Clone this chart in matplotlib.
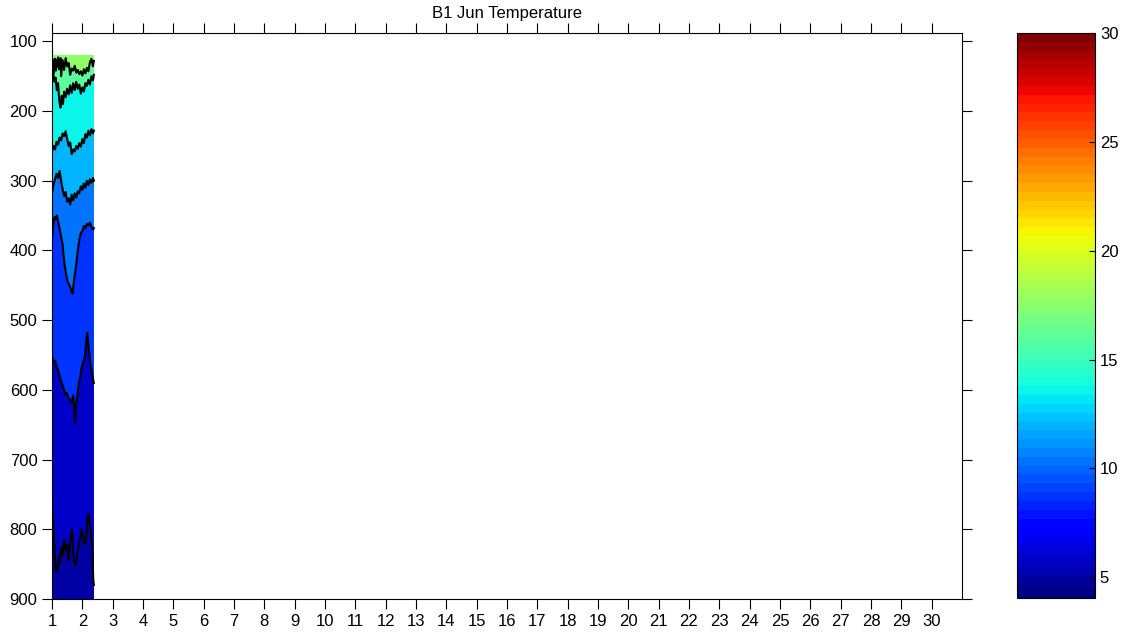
import matplotlib
matplotlib.use("Agg")
import matplotlib.pyplot as plt
import matplotlib as mpl
import numpy as np

plt.rcParams['font.family'] = ['Liberation Sans', 'DejaVu Sans']

# time axis (day of month) and depth range of the cast
days = list(range(1, 31))
depth_ticks = [100, 200, 300, 400, 500, 600, 700, 800, 900]
cbar_ticks = [5, 10, 15, 20, 25, 30]
t_min, t_max = 4.05, 30.0
x_start, x_end = 1.0, 2.38
depth_top, depth_bottom = 120, 900

# temperature of each band, from the surface down
band_temps = [17.7, 16.0, 13.6, 12.0, 10.3, 8.9, 6.0, 5.0]

# isotherm depths (boundaries between bands)
iso1_x = [1.00, 1.03, 1.05, 1.08, 1.10, 1.13, 1.15, 1.18, 1.20, 1.23, 1.25, 1.28, 1.30, 1.35, 1.40, 1.45,
          1.50, 1.55, 1.60, 1.65, 1.70, 1.75, 1.80, 1.85, 1.90, 1.95, 2.00, 2.05, 2.10, 2.15, 2.20,
          2.25, 2.30, 2.35, 2.38]
iso1_d = [140, 126, 146, 131, 125, 142, 127, 136, 123, 140, 132, 124, 150, 127, 141, 124,
          136, 131, 148, 139, 142, 135, 145, 141, 147, 143, 149, 140, 146, 138, 143,
          130, 125, 136, 128]

iso2_x = [1.00, 1.04, 1.08, 1.12, 1.16, 1.20, 1.24, 1.28, 1.32, 1.36, 1.40, 1.45, 1.50, 1.55, 1.60, 1.65,
          1.70, 1.75, 1.80, 1.85, 1.90, 1.95, 2.00, 2.05, 2.10, 2.15, 2.20, 2.25, 2.30, 2.35, 2.38]
iso2_d = [150, 146, 158, 152, 170, 160, 185, 195, 178, 190, 172, 180, 168, 176, 163, 174,
          160, 170, 158, 168, 162, 175, 166, 172, 160, 164, 155, 162, 150, 156, 148]

iso3_x = [1.00, 1.05, 1.10, 1.15, 1.20, 1.25, 1.30, 1.35, 1.40, 1.45, 1.50, 1.55, 1.60, 1.65, 1.70,
          1.75, 1.80, 1.85, 1.90, 1.95, 2.00, 2.05, 2.10, 2.15, 2.20, 2.25, 2.30, 2.35, 2.38]
iso3_d = [258, 250, 255, 244, 248, 238, 242, 232, 236, 229, 240, 250, 245, 262, 255,
          258, 250, 254, 246, 251, 240, 246, 233, 238, 228, 235, 226, 232, 228]

iso4_x = [1.00, 1.05, 1.10, 1.15, 1.20, 1.25, 1.30, 1.35, 1.40, 1.45, 1.50, 1.55, 1.60, 1.65, 1.70,
          1.75, 1.80, 1.85, 1.90, 1.95, 2.00, 2.05, 2.10, 2.15, 2.20, 2.25, 2.30, 2.35, 2.38]
iso4_d = [318, 305, 298, 290, 296, 286, 300, 312, 322, 316, 330, 325, 334, 320, 328,
          318, 324, 315, 318, 308, 313, 304, 310, 300, 306, 298, 303, 296, 300]

iso5_x = [1.00, 1.03, 1.06, 1.09, 1.12, 1.16, 1.20, 1.25, 1.30, 1.35, 1.40, 1.45, 1.50, 1.55, 1.60, 1.64,
          1.68, 1.72, 1.76, 1.80, 1.85, 1.90, 1.95, 2.00, 2.05, 2.10, 2.15, 2.20, 2.25, 2.30, 2.35, 2.38]
iso5_d = [385, 368, 356, 352, 355, 350, 358, 368, 380, 392, 415, 430, 442, 448, 452, 458,
          462, 445, 432, 420, 400, 385, 375, 372, 365, 368, 362, 364, 360, 366, 370, 368]

iso6_x = [1.00, 1.05, 1.10, 1.15, 1.20, 1.26, 1.32, 1.38, 1.43, 1.48, 1.54, 1.59, 1.64, 1.70, 1.74,
          1.76, 1.79, 1.83, 1.87, 1.92, 1.98, 2.03, 2.09, 2.13, 2.16, 2.20, 2.25, 2.30, 2.36, 2.38]
iso6_d = [552, 560, 558, 566, 572, 582, 590, 598, 606, 604, 612, 614, 618, 608, 630,
          648, 622, 610, 596, 584, 568, 560, 552, 530, 518, 535, 557, 572, 586, 590]

iso7_x = [1.00, 1.02, 1.04, 1.07, 1.10, 1.14, 1.18, 1.22, 1.26, 1.30, 1.35, 1.40, 1.45, 1.50, 1.54, 1.58,
          1.62, 1.66, 1.70, 1.74, 1.78, 1.82, 1.87, 1.92, 1.98, 2.03, 2.09, 2.14, 2.18, 2.21, 2.25,
          2.29, 2.33, 2.36, 2.38]
iso7_d = [752, 770, 795, 818, 845, 862, 858, 840, 848, 826, 838, 815, 830, 822, 845, 828,
          810, 800, 835, 848, 852, 838, 826, 815, 800, 812, 822, 805, 780, 778, 795,
          810, 830, 872, 880]

isotherms = [(iso1_x, iso1_d), (iso2_x, iso2_d), (iso3_x, iso3_d), (iso4_x, iso4_d),
             (iso5_x, iso5_d), (iso6_x, iso6_d), (iso7_x, iso7_d)]

cmap = mpl.colormaps['jet'].resampled(64)
norm = mpl.colors.Normalize(vmin=t_min, vmax=t_max)

fig = plt.figure(figsize=(11.27, 6.38), dpi=100)
ax = fig.add_axes([52 / 1127, 1 - 599 / 638, 910 / 1127, 566 / 638])
cax = fig.add_axes([1017 / 1127, 1 - 598 / 638, 78 / 1127, 565 / 638])

# surface band covers the whole cast, deeper bands painted over it
ax.fill([x_start, x_end, x_end, x_start], [depth_top, depth_top, depth_bottom, depth_bottom],
        color=cmap(norm(band_temps[0])), lw=0)
for (xs, ds), t in zip(isotherms, band_temps[1:]):
    px = list(xs) + [xs[-1], xs[0]]
    py = list(ds) + [depth_bottom, depth_bottom]
    ax.fill(px, py, color=cmap(norm(t)), lw=0)
for xs, ds in isotherms:
    ax.plot(xs, ds, color='black', lw=1.5)

ax.set_xlim(1, 31)
ax.set_ylim(900, 88)
ax.set_xticks(days)
ax.set_yticks(depth_ticks)
ax.tick_params(direction='out', top=True, right=True, length=7, width=0.8, labelsize=12,
               labeltop=False, labelright=False)
ax.set_title('B1 Jun Temperature', fontsize=12, pad=11)
for s in ax.spines.values():
    s.set_linewidth(0.8)

sm = mpl.cm.ScalarMappable(norm=norm, cmap=cmap)
cb = fig.colorbar(sm, cax=cax, ticks=cbar_ticks)
cax.tick_params(direction='in', length=4, width=0.8, labelsize=12, left=False, right=True)
cb.outline.set_linewidth(0.8)

fig.savefig('out.png', dpi=100)
